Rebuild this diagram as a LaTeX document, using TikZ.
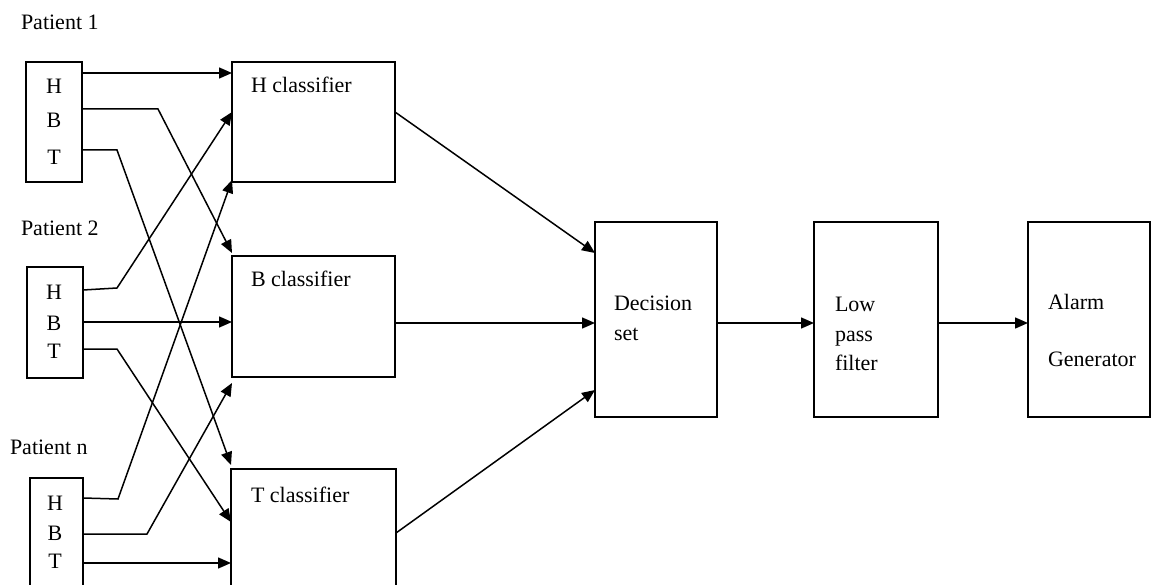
\documentclass[tikz,border=0pt]{standalone}
\usepackage{fontspec}
\setmainfont{Liberation Serif}
\usetikzlibrary{arrows.meta}
\begin{document}
\begin{tikzpicture}[x=1pt,y=-1pt,
  box/.style={draw, line width=1.4pt, rectangle, inner sep=0pt, outer sep=0pt, anchor=north west},
  lbl/.style={inner sep=0pt, outer sep=0pt, anchor=base west, font=\fontsize{22}{26}\selectfont},
  ltr/.style={inner sep=0pt, outer sep=0pt, anchor=base, font=\fontsize{22}{26}\selectfont},
  conn/.style={line width=1.5pt, -{Triangle[length=13pt,width=11pt]}},
]
\useasboundingbox (0,0) rectangle (1156,585);
\clip (0,0) rectangle (1156,585);

% patient boxes
\node[box, minimum width=56pt, minimum height=120pt] (p1) at (26,62) {};
\node[box, minimum width=56pt, minimum height=111pt] (p2) at (27,267) {};
\node[box, minimum width=53pt, minimum height=135pt] (pn) at (30,478) {};

% classifiers
\node[box, minimum width=163pt, minimum height=120pt] (hc) at (232,62) {};
\node[box, minimum width=163pt, minimum height=121pt] (bc) at (232,256) {};
\node[box, minimum width=165pt, minimum height=140pt] (tc) at (231,469) {};

% right chain
\node[box, minimum width=122pt, minimum height=195pt] (ds) at (595,222) {};
\node[box, minimum width=124pt, minimum height=195pt] (lp) at (814,222) {};
\node[box, minimum width=122pt, minimum height=195pt] (ag) at (1028,222) {};

% labels
\node[lbl] (l1) at (21,30) {Patient 1};
\node[lbl] (l2) at (21,236) {Patient 2};
\node[lbl] (ln) at (10,454) {Patient n};

\node[ltr] (h1) at (54,94) {H};
\node[ltr] (b1) at (54,128) {B};
\node[ltr] (t1) at (54,165) {T};
\node[ltr] (h2) at (54,299) {H};
\node[ltr] (b2) at (54,330) {B};
\node[ltr] (t2) at (54,358) {T};
\node[ltr] (hn) at (55,510) {H};
\node[ltr] (bn) at (55,540) {B};
\node[ltr] (tn) at (55,568) {T};

\node[lbl] (hct) at (251,93) {H classifier};
\node[lbl] (bct) at (251,287) {B classifier};
\node[lbl] (tct) at (251,502) {T classifier};

\node[lbl] (dst1) at (614,310) {Decision};
\node[lbl] (dst2) at (614,340) {set};
\node[lbl] (lpt1) at (835,311) {Low};
\node[lbl] (lpt2) at (835,341) {pass};
\node[lbl] (lpt3) at (835,370) {filter};
\node[lbl] (agt1) at (1048,309) {Alarm};
\node[lbl] (agt2) at (1048,366) {Generator};

% patient 1
\draw[conn] (p1.east |- 0,73) -- (hc.west |- 0,73);
\draw[conn] (p1.east |- 0,109) -- (158,109) -- (bc.west |- 0,253);
\draw[conn] (p1.east |- 0,150) -- (117,150) -- (tc.west |- 0,465);
% patient 2
\draw[conn] (p2.east |- 0,290) -- (117,288) -- (hc.west |- 0,112);
\draw[conn] (p2.east |- 0,322) -- (bc.west |- 0,322);
\draw[conn] (p2.east |- 0,349) -- (117,349) -- (tc.west |- 0,522);
% patient n
\draw[conn] (pn.east |- 0,498) -- (118,499) -- (hc.west |- 0,180);
\draw[conn] (pn.east |- 0,534) -- (147,534) -- (bc.west |- 0,383);
\draw[conn] (pn.east |- 0,563) -- (tc.west |- 0,563);

% classifiers to decision
\draw[conn] (hc.east |- 0,112) -- (ds.west |- 0,253);
\draw[conn] (bc.east |- 0,323) -- (ds.west |- 0,323);
\draw[conn] (tc.east |- 0,533) -- (ds.west |- 0,390);
\draw[conn] (ds.east |- 0,323) -- (lp.west |- 0,323);
\draw[conn] (lp.east |- 0,323) -- (ag.west |- 0,323);
\end{tikzpicture}
\end{document}
